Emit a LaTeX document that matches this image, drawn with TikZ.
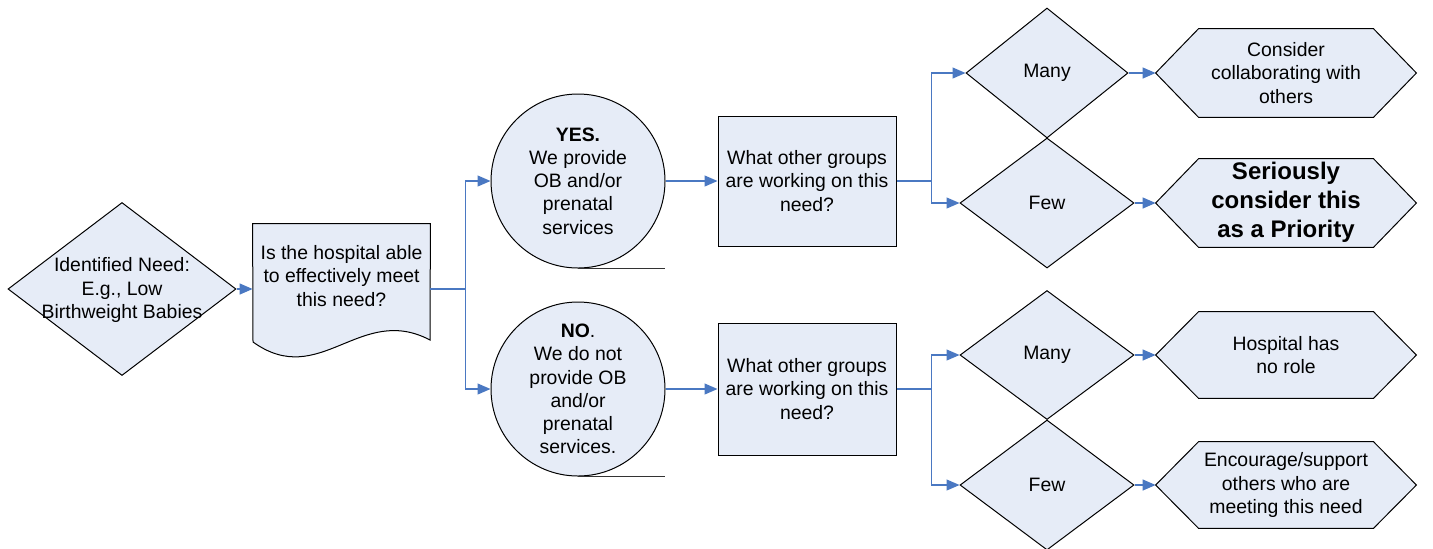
\documentclass[tikz,border=0pt]{standalone}
\usepackage{fontspec}
\setmainfont{Liberation Sans}
\usetikzlibrary{shapes.geometric,arrows.meta,calc}
\definecolor{fillc}{HTML}{E6ECF7}
\definecolor{linec}{HTML}{4A78C2}
\newcommand\hexdraw[1]{%
  \draw[shp] (#1.north west) -- (#1.north east) -- ($(#1.east)+(43,0)$)
    -- (#1.south east) -- (#1.south west) -- ($(#1.west)+(-43,0)$) -- cycle;
  \coordinate (#1in) at ($(#1.west)+(-43,0)$);}
\begin{document}
\begin{tikzpicture}[x=0.5pt,y=-0.5pt,
  shp/.style={draw=black, line width=0.5pt, fill=fillc},
  txt/.style={align=center, font=\fontsize{9.7}{11.6}\selectfont, inner sep=0pt},
  bigtxt/.style={align=center, font=\fontsize{12}{14.5}\selectfont\bfseries, inner sep=0pt},
  conn/.style={draw=linec, line width=0.6pt, -{Triangle[length=6.5pt,width=5.5pt]}},
  plainln/.style={draw=linec, line width=0.6pt},
  dia/.style={shp, diamond, inner sep=0pt},
  hexbox/.style={inner sep=0pt, minimum width=87pt},
  rbox/.style={shp, rectangle, inner sep=0pt, minimum width=89pt, minimum height=65pt}]
\useasboundingbox (0,0) rectangle (1433,548);

% identified need
\node[dia, minimum width=114pt, minimum height=86.5pt] (need) at (122,289) {};
\node[txt] (needt) at (122,290) {Identified Need:\\E.g., Low\\Birthweight Babies};

% document shape
\node[inner sep=0pt, minimum width=88.5pt, minimum height=65pt] (doc) at (341.5,289) {};
\draw[shp] (doc.north west) -- (doc.north east) -- (430,340)
  .. controls (360,303) and (320,390) .. (253,342) -- cycle;
\node[txt] (doct) at (341.5,276) {Is the hospital able\\to effectively meet\\this need?};
\draw[conn] (need.east) -- (doc.west);

% circles
\node[shp, circle, minimum size=87pt, inner sep=0pt] (yes) at (578,181) {};
\draw[line width=0.6pt, black!80] (yes.south) -- ++(87,0);
\node[txt] (yest) at (578,181) {\textbf{YES.}\\We provide\\OB and/or\\prenatal\\services};
\node[shp, circle, minimum size=87pt, inner sep=0pt] (no) at (578,389) {};
\draw[line width=0.6pt, black!80] (no.south) -- ++(87,0);
\node[txt] (not) at (578,389) {\textbf{NO}.\\We do not\\provide OB\\and/or\\prenatal\\services.};

\draw[plainln] (doc.east) -- ++(35,0) coordinate (s1);
\draw[conn] (s1) |- (yes.west);
\draw[conn] (s1) |- (no.west);

% question boxes
\node[rbox] (q1) at (807,181) {};
\node[txt] (q1t) at (807,181) {What other groups\\are working on this\\need?};
\node[rbox, minimum height=66pt] (q2) at (807,389) {};
\node[txt] (q2t) at (807,389) {What other groups\\are working on this\\need?};
\draw[conn] (yes.east) -- (q1.west);
\draw[conn] (no.east) -- (q2.west);

% decision diamonds
\node[dia, minimum width=81pt, minimum height=65pt] (many1) at (1047,73) {};
\node[dia, minimum width=87pt, minimum height=65pt] (few1) at (1047,203) {};
\node[dia, minimum width=87pt, minimum height=64.5pt] (many2) at (1047,355) {};
\node[dia, minimum width=87pt, minimum height=65pt] (few2) at (1047,485) {};
\node[txt] (many1t) at (many1) {Many};
\node[txt] (few1t) at (few1) {Few};
\node[txt] (many2t) at (many2) {Many};
\node[txt] (few2t) at (few2) {Few};

\draw[plainln] (q1.east) -- ++(35,0) coordinate (s2);
\draw[conn] (s2) |- (many1.west);
\draw[conn] (s2) |- (few1.west);
\draw[plainln] (q2.east) -- ++(35,0) coordinate (s3);
\draw[conn] (s3) |- (many2.west);
\draw[conn] (s3) |- (few2.west);

% hexagons
\node[hexbox, minimum height=44pt] (h1) at (1286,73) {};
\node[hexbox, minimum height=44pt] (h2) at (1286,203) {};
\node[hexbox, minimum height=43pt] (h3) at (1286,355) {};
\node[hexbox, minimum height=43pt] (h4) at (1286,485) {};
\hexdraw{h1}\hexdraw{h2}\hexdraw{h3}\hexdraw{h4}
\node[txt] (h1t) at (1286,73) {Consider\\collaborating with\\others};
\node[bigtxt] (h2t) at (1286,202) {Seriously\\consider this\\as a Priority};
\node[txt] (h3t) at (1286,355) {Hospital has\\no role};
\node[txt] (h4t) at (1286,485) {Encourage/support\\others who are\\meeting this need};

\draw[conn] (many1.east) -- (h1in);
\draw[conn] (few1.east) -- (h2in);
\draw[conn] (many2.east) -- (h3in);
\draw[conn] (few2.east) -- (h4in);
\end{tikzpicture}
\end{document}
